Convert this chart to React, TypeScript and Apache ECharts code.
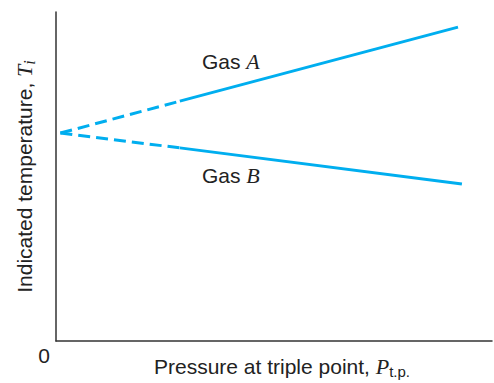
import React, { useEffect, useRef } from "react";
import * as echarts from "echarts";

const gasADashed: [number, number][] = [[1, 63.2], [28.4, 72.9]];
const gasASolid: [number, number][] = [[28.4, 72.9], [92.2, 95.4]];
const gasBDashed: [number, number][] = [[1, 63.2], [28.4, 58.7]];
const gasBSolid: [number, number][] = [[28.4, 58.7], [93.1, 47.7]];
const xTickLabels = ["0"];
const gasLabels = ["A", "B"];

const LINE_COLOR = "#00AEEF";
const SANS = "'Liberation Sans', Arial, sans-serif";
const SERIF = "'Liberation Serif', 'Times New Roman', serif";
const TXT = "#222";
const FS = 21;

export default function App() {
  const ref = useRef<HTMLDivElement>(null);
  useEffect(() => {
    if (!ref.current) return;
    const chart = echarts.init(ref.current, undefined, { renderer: "svg" });
    const rich = {
      n: { fontFamily: SANS, fontSize: FS, color: TXT },
      i: { fontFamily: SERIF, fontStyle: "italic", fontSize: 22, color: TXT },
      sub: { fontFamily: SANS, fontSize: 15, color: TXT, padding: [10, 0, 0, 0] },
      subi: { fontFamily: SERIF, fontStyle: "italic", fontSize: 16, color: TXT, padding: [10, 0, 0, 0] },
    };
    const lineSeries = (data: [number, number][], dashed: boolean) => ({
      type: "line",
      data,
      symbol: "none",
      silent: true,
      lineStyle: { color: LINE_COLOR, width: 3, type: dashed ? [12, 6] : "solid" },
    });
    const gasText = (label: string) => ({
      text: "{n|Gas }{i|" + label + "}",
      rich: {
        n: { fontFamily: SANS, fontSize: FS, fill: TXT },
        i: { fontFamily: SERIF, fontStyle: "italic", fontSize: 22, fill: TXT },
      },
    });
    chart.setOption({
      animation: false,
      grid: { left: 56, top: 12, right: 2, bottom: 42, outerBoundsMode: "none", containLabel: false },
      xAxis: {
        type: "value",
        min: 0,
        max: 100,
        interval: 100,
        splitLine: { show: false },
        axisTick: { show: false },
        axisLine: { show: true, lineStyle: { color: "#333", width: 1.5 } },
        axisLabel: {
          formatter: (v: number) => (v === 0 ? xTickLabels[0] : ""),
          fontFamily: SANS,
          fontSize: FS,
          color: TXT,
          margin: 4,
          align: "right",
          padding: [0, 6, 0, 0],
        },
        name: "{n|Pressure at triple point, }{i|P}{sub|t.p.}",
        nameLocation: "middle",
        nameGap: 13,
        nameMoveOverlap: false,
        nameTextStyle: {
          fontFamily: SANS,
          fontSize: FS,
          color: TXT,
          padding: [0, 0, 0, 16],
          verticalAlign: "top",
          rich,
        },
      },
      yAxis: {
        type: "value",
        min: 0,
        max: 100,
        splitLine: { show: false },
        axisTick: { show: false },
        axisLabel: { show: false },
        axisLine: { show: true, lineStyle: { color: "#333", width: 1.5 } },
        name: "{n|Indicated temperature, }{i|T}{subi|i}",
        nameLocation: "middle",
        nameGap: 19,
        nameMoveOverlap: false,
        nameTextStyle: {
          fontFamily: SANS,
          fontSize: FS,
          color: TXT,
          rich,
        },
      },
      graphic: [
        { type: "text", left: 202, top: 50, style: gasText(gasLabels[0]) },
        { type: "text", left: 202, top: 164, style: gasText(gasLabels[1]) },
      ],
      series: [
        lineSeries(gasADashed, true),
        lineSeries(gasASolid, false),
        lineSeries(gasBDashed, true),
        lineSeries(gasBSolid, false),
      ],
    });
    return () => chart.dispose();
  }, []);
  return <div ref={ref} style={{ width: 494, height: 383, position: "absolute", left: 0, top: 0, background: "#fff" }} />;
}
